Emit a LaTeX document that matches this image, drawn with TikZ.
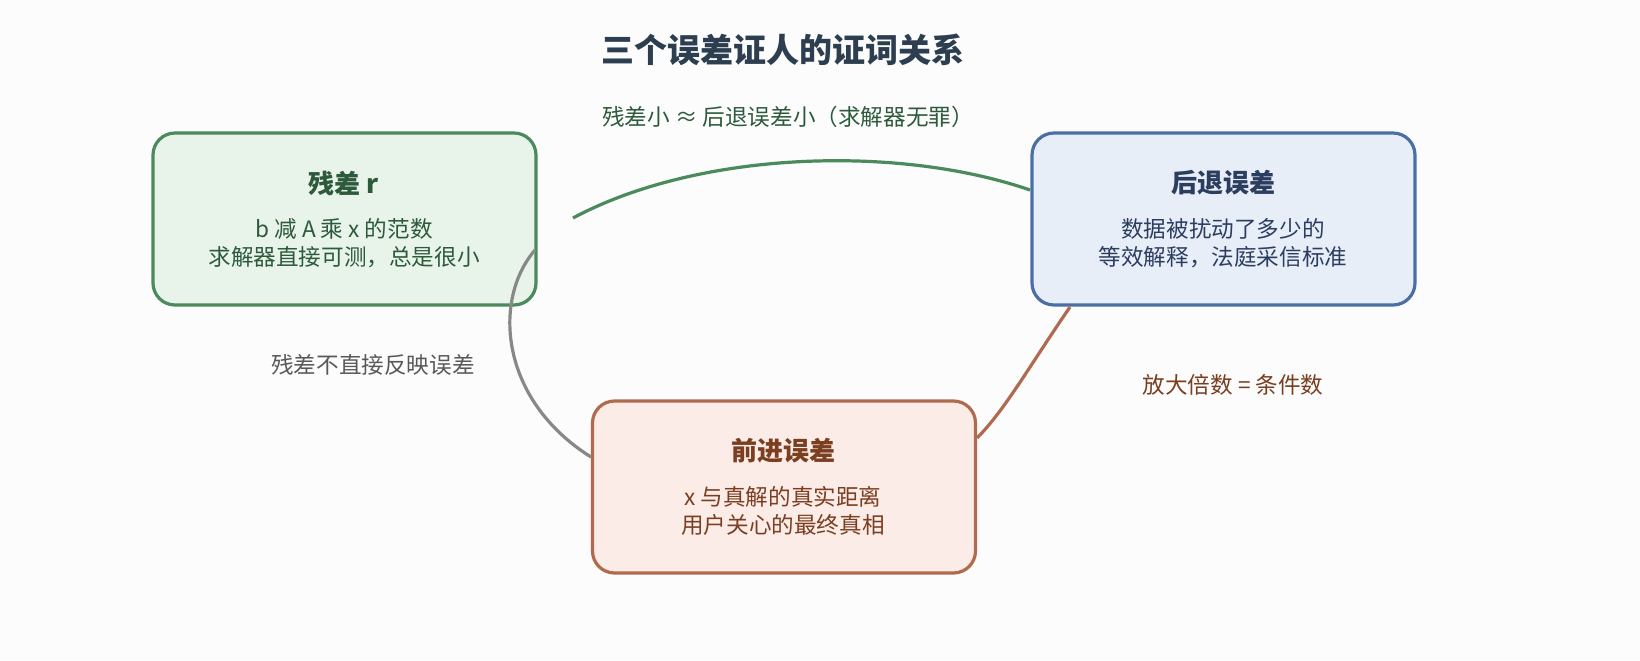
\documentclass[tikz,border=0pt]{standalone}
\usepackage{fontspec}
\setmainfont{Noto Sans CJK SC}
\definecolor{gS}{HTML}{4A8A5C}\definecolor{gF}{HTML}{E8F3EA}\definecolor{gT}{HTML}{2D5A3A}
\definecolor{bS}{HTML}{4A6FA5}\definecolor{bF}{HTML}{E8EEF8}\definecolor{bT}{HTML}{2C3E60}
\definecolor{oS}{HTML}{B06A50}\definecolor{oF}{HTML}{FCECE8}\definecolor{oT}{HTML}{7A3E20}
\definecolor{tT}{HTML}{2C3E50}\definecolor{grayL}{HTML}{888888}
\begin{document}
\begin{tikzpicture}[x=0.5pt,y=-0.5pt,
 box/.style={draw,line width=1.6pt,rounded corners=11pt,minimum width=191.5pt,minimum height=86pt},
 lab/.style={font=\fontsize{11.3}{13}\selectfont}]
\useasboundingbox[fill=white!98!gray] (0,0) rectangle (1640,660);
\node[font=\fontsize{16.5}{18}\selectfont\bfseries,text=tT] (title) at (783,50) {三个误差证人的证词关系};
\node[box,draw=gS,fill=gF] (g) at (344.5,219) {};
\node[box,draw=bS,fill=bF] (b) at (1223.5,219) {};
\node[box,draw=oS,fill=oF] (o) at (784,487) {};
\node[font=\fontsize{13}{15}\selectfont\bfseries,text=gT] (gt) at (344,183) {残差 r};
\node[lab,text=gT,align=center] (gb) at (344,243) {b 减 A 乘 x 的范数\\[1pt]求解器直接可测，总是很小};
\node[font=\fontsize{13}{15}\selectfont\bfseries,text=bT] (bt) at (1223,183) {后退误差};
\node[lab,text=bT,align=center] (bb) at (1223,243) {数据被扰动了多少的\\[1pt]等效解释，法庭采信标准};
\node[font=\fontsize{13}{15}\selectfont\bfseries,text=oT] (ot) at (783,451) {前进误差};
\node[lab,text=oT,align=center] (ob) at (783,511) {x 与真解的真实距离\\[1pt]用户关心的最终真相};
\coordinate (g1) at (573,218); \coordinate (b1) at (1030,190);
\coordinate (g2) at (535,250); \coordinate (o1) at (591,457);
\coordinate (b2) at (1070,307); \coordinate (o2) at (977,438);
\draw[gS,line width=1.6pt] (g1) .. controls (700,150) and (900,145) .. (b1);
\draw[grayL,line width=1.6pt] (g2) .. controls (492,300) and (500,400) .. (o1);
\draw[oS,line width=1.6pt] (b2) .. controls (1030,365) and (1005,410) .. (o2);
\node[lab,text=gT] (l1) at (788,117) {残差小 ≈ 后退误差小（求解器无罪）};
\node[lab,text=black!65] (l2) at (373,365) {残差不直接反映误差};
\node[lab,text=oT] (l3) at (1233,385) {放大倍数 = 条件数};
\end{tikzpicture}
\end{document}
